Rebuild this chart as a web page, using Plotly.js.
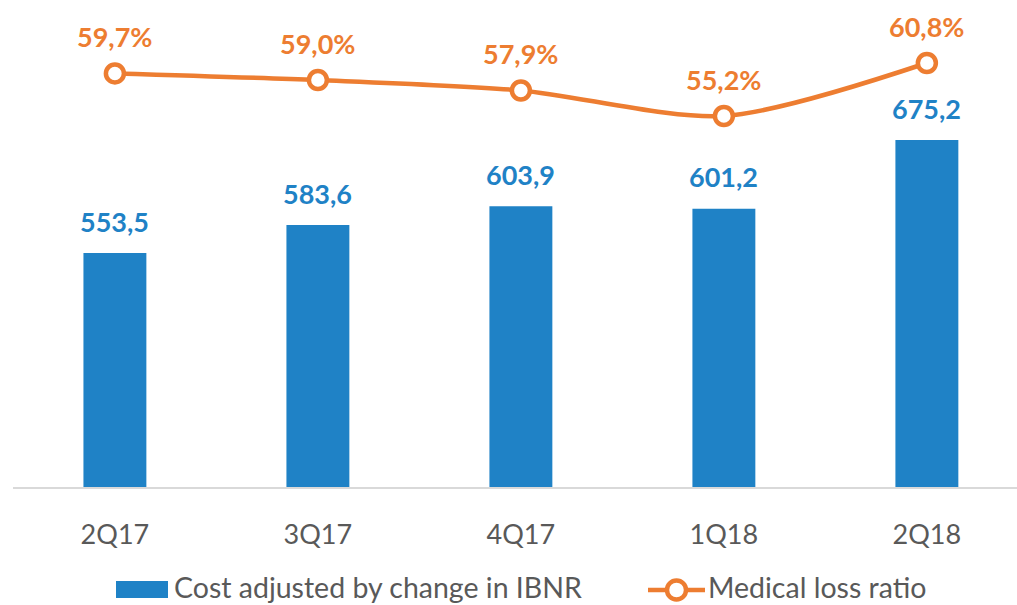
<!DOCTYPE html>
<html>
<head>
<meta charset="utf-8">
<script src="https://cdn.plot.ly/plotly-3.0.1.min.js"></script>
<style>html,body{margin:0;padding:0;background:#fff;}#chart{width:1017px;height:605px;}</style>
</head>
<body>
<div id="chart"></div>
<script>
const categories = ['2Q17', '3Q17', '4Q17', '1Q18', '2Q18'];
const costValues = [553.5, 583.6, 603.9, 601.2, 675.2];
const lossRatio = [59.7, 59.0, 57.9, 55.2, 60.8];
const costLabels = ['553,5', '583,6', '603,9', '601,2', '675,2'];
const ratioLabels = ['59,7%', '59,0%', '57,9%', '55,2%', '60,8%'];
const seriesNames = ['Cost adjusted by change in IBNR', 'Medical loss ratio'];

const BLUE = '#1F82C6';
const ORANGE = '#ED7D31';
const FONT = 'Lato, "Open Sans", sans-serif';

const traces = [
  {
    type: 'bar', name: seriesNames[0], x: categories, y: costValues,
    marker: {color: BLUE}, width: 0.31, yaxis: 'y', hoverinfo: 'skip'
  },
  {
    type: 'scatter', mode: 'lines+markers', name: seriesNames[1], x: categories, y: lossRatio,
    yaxis: 'y2', line: {color: ORANGE, width: 4.5, shape: 'spline', smoothing: 0.8},
    marker: {size: 18, color: '#fff', line: {color: ORANGE, width: 4.5}}, hoverinfo: 'skip'
  }
];

const annotations = [];
categories.forEach((c, i) => {
  annotations.push({x: c, y: costValues[i], xref: 'x', yref: 'y', text: costLabels[i], showarrow: false,
    yshift: 32, font: {family: FONT, size: 27, color: BLUE, weight: 'bold'}});
  annotations.push({x: c, y: lossRatio[i], xref: 'x', yref: 'y2', text: ratioLabels[i], showarrow: false,
    yshift: 37, font: {family: FONT, size: 27, color: ORANGE, weight: 'bold'}});
});
// custom legend text
annotations.push({xref: 'paper', yref: 'paper', x: (173 - 13) / 1004, y: (487 - 587) / 477, xanchor: 'left', yanchor: 'middle',
  text: seriesNames[0], showarrow: false, borderpad: 0, font: {family: FONT, size: 28.5, color: '#595959'}});
annotations.push({xref: 'paper', yref: 'paper', x: (707 - 13) / 1004, y: (487 - 587) / 477, xanchor: 'left', yanchor: 'middle',
  text: seriesNames[1], showarrow: false, borderpad: 0, font: {family: FONT, size: 28.5, color: '#595959'}});

const px = v => (v - 13) / 1004;
const py = v => (487 - v) / 477;
const shapes = [
  {type: 'rect', xref: 'paper', yref: 'paper', x0: px(116), x1: px(168), y0: py(598), y1: py(581), fillcolor: BLUE, line: {width: 0}},
  {type: 'line', xref: 'paper', yref: 'paper', x0: px(648), x1: px(705), y0: py(590), y1: py(590), line: {color: ORANGE, width: 4.5}},
  {type: 'circle', xref: 'paper', yref: 'paper', x0: px(667), x1: px(686), y0: py(599.5), y1: py(580.5), fillcolor: '#fff', line: {color: ORANGE, width: 4.5}}
];

const layout = {
  width: 1017, height: 605,
  margin: {l: 13, r: 0, t: 10, b: 118},
  paper_bgcolor: '#fff', plot_bgcolor: '#fff',
  showlegend: false,
  font: {family: FONT, color: '#595959'},
  xaxis: {
    type: 'category', range: [-0.502, 4.444], showgrid: false, zeroline: false,
    showline: true, linecolor: '#D9D9D9', linewidth: 1.5, ticks: '', ticklabelstandoff: 23,
    tickfont: {family: FONT, size: 27, color: '#595959'}
  },
  yaxis: {range: [301.5, 815.2], visible: false, showgrid: false, zeroline: false},
  yaxis2: {range: [16.0, 66.4], overlaying: 'y', visible: false, showgrid: false, zeroline: false},
  annotations: annotations,
  shapes: shapes
};

Plotly.newPlot('chart', traces, layout, {staticPlot: true, displayModeBar: false});
</script>
</body>
</html>
